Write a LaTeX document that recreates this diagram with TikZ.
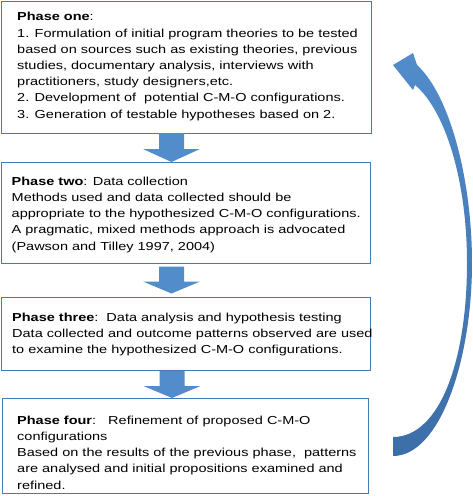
\documentclass[tikz,border=0pt]{standalone}
\usepackage{fontspec}
\setmainfont[FakeStretch=1.25]{Liberation Sans}
\usetikzlibrary{positioning}

\definecolor{boxline}{RGB}{70,122,182}
\definecolor{arrowfill}{RGB}{82,140,202}
\definecolor{arrowdark}{RGB}{60,110,168}

\tikzset{
  phase/.style={draw=boxline, line width=0.9pt, fill=white, rectangle,
    inner sep=0pt, outer sep=0pt, anchor=north west},
  phasetext/.style={align=left, inner sep=0pt, anchor=north west,
    font=\fontsize{11.6}{16.2}\selectfont},
  blockarrow/.style={fill=arrowfill},
}

\begin{document}
\begin{tikzpicture}[x=1pt,y=1pt]
    \useasboundingbox (0,0) rectangle (473,-496);

    % boxes
    \node[phase, minimum width=370, minimum height=132] (one) at (1,-1) {};
    \node[phase, minimum width=369, minimum height=101] (two) at (1,-162) {};
    \node[phase, minimum width=369, minimum height=73] (three) at (1,-297) {};
    \node[phase, minimum width=366, minimum height=95] (four) at (2,-398) {};

    % Phase one
    \node[phasetext] (one text) at ([xshift=16pt,yshift=-11.3pt]one.north west) {%
      \textbf{Phase one}:\\
      1. Formulation of initial program theories to be tested\\
      based on sources such as existing theories, previous\\
      studies, documentary analysis, interviews with\\
      practitioners, study designers,etc.\\
      2. Development of\ \ potential C-M-O configurations.\\
      3. Generation of testable hypotheses based on 2.};

    % Phase two
    \node[phasetext] (two text) at ([xshift=10.5pt,yshift=-14.6pt]two.north west) {%
      \textbf{Phase two}: Data collection\\
      Methods used and data collected should be\\
      appropriate to the hypothesized C-M-O configurations.\\
      A pragmatic, mixed methods approach is advocated\\
      (Pawson and Tilley 1997, 2004)};

    % Phase three
    \node[phasetext] (three text) at ([xshift=11pt,yshift=-15.6pt]three.north west) {%
      \textbf{Phase three}:\ \ Data analysis and hypothesis testing\\
      Data collected and outcome patterns observed are used\\
      to examine the hypothesized C-M-O configurations.};

    % Phase four
    \node[phasetext] (four text) at ([xshift=15pt,yshift=-17.6pt]four.north west) {%
      \textbf{Phase four}:\ \ \ Refinement of proposed C-M-O\\
      configurations\\
      Based on the results of the previous phase,\ \ patterns\\
      are analysed and initial propositions examined and\\
      refined.};

    % arrows down
    \fill[blockarrow] ([xshift=-14pt]two.north) -- ++(28.5,13) -- ++(-16,0) -- ++(0,16)
      -- ++(-25,0) -- ++(0,-16) -- ++(-16,0) -- cycle;
    \fill[blockarrow] ([xshift=-14pt,yshift=3.5pt]three.north) -- ++(28.5,12) -- ++(-16,0) -- ++(0,15)
      -- ++(-25,0) -- ++(0,-15) -- ++(-16,0) -- cycle;
    \fill[blockarrow] ([xshift=-13pt]four.north) -- ++(28.5,12) -- ++(-16,0) -- ++(0,15)
      -- ++(-25,0) -- ++(0,-15) -- ++(-16,0) -- cycle;

    % arrow back up
    \shade[top color=arrowfill, bottom color=arrowdark]
      (393,-437) -- (393,-456)
      .. controls (440,-456) and (472,-360) .. (472,-263)
      .. controls (472,-180) and (450,-95) .. (417,-65)
      -- (413,-53) -- (393,-65) -- (413,-90) -- (415,-85)
      .. controls (445,-110) and (467,-180) .. (467,-263)
      .. controls (467,-360) and (440,-437) .. (393,-437) -- cycle;
\end{tikzpicture}
\end{document}
